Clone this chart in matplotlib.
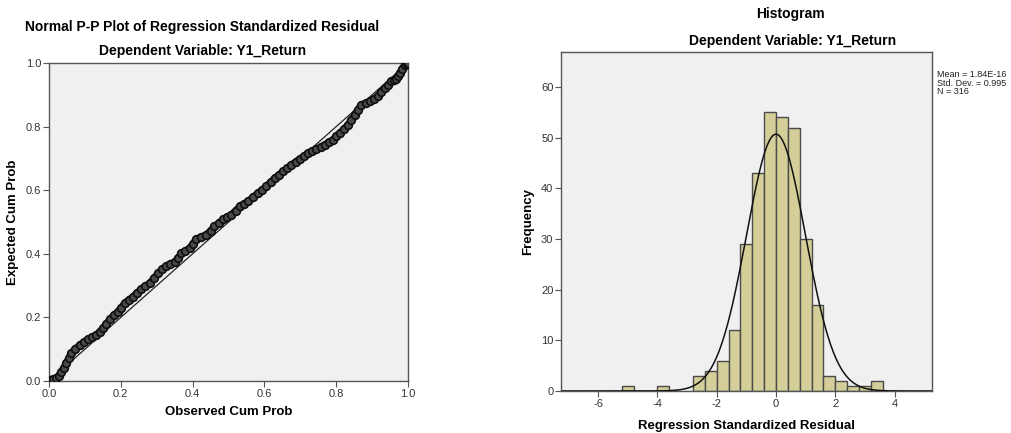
#!/usr/bin/env python3
"""
SPSS-style regression residual diagnostics: normal P-P plot and histogram.

Outputs:
  * out.png
"""
import matplotlib

matplotlib.use("Agg")
import matplotlib.pyplot as plt
import numpy as np

plt.rcParams["font.family"] = ["Liberation Sans", "DejaVu Sans"]
plt.rcParams["axes.unicode_minus"] = False

# P-P plot points (observed cum prob, expected cum prob)
observed_cum = [
    0.002, 0.010, 0.020, 0.027, 0.034, 0.041, 0.048, 0.055, 0.062, 0.073,
    0.085, 0.097, 0.109, 0.120, 0.132, 0.141, 0.150, 0.160, 0.169, 0.180,
    0.192, 0.201, 0.211, 0.222, 0.234, 0.245, 0.257, 0.268, 0.280, 0.292,
    0.304, 0.315, 0.327, 0.338, 0.350, 0.360, 0.369, 0.380, 0.392, 0.401,
    0.410, 0.424, 0.438, 0.450, 0.461, 0.473, 0.485, 0.497, 0.508, 0.520,
    0.531, 0.543, 0.554, 0.568, 0.582, 0.594, 0.605, 0.617, 0.629, 0.640,
    0.652, 0.664, 0.675, 0.687, 0.698, 0.710, 0.721, 0.733, 0.745, 0.757,
    0.768, 0.780, 0.791, 0.800, 0.810, 0.822, 0.833, 0.842, 0.851, 0.860,
    0.870, 0.882, 0.893, 0.905, 0.916, 0.926, 0.935, 0.945, 0.954, 0.961,
    0.967, 0.972, 0.977, 0.984, 0.991, 0.996, 1.000,
]
expected_cum = [
    0.003, 0.005, 0.008, 0.017, 0.029, 0.042, 0.056, 0.072, 0.087, 0.101,
    0.113, 0.123, 0.131, 0.138, 0.145, 0.155, 0.166, 0.180, 0.194, 0.206,
    0.218, 0.231, 0.245, 0.255, 0.265, 0.277, 0.289, 0.298, 0.307, 0.323,
    0.339, 0.351, 0.362, 0.368, 0.375, 0.388, 0.402, 0.410, 0.418, 0.432,
    0.446, 0.453, 0.460, 0.473, 0.486, 0.497, 0.509, 0.516, 0.523, 0.536,
    0.549, 0.557, 0.565, 0.578, 0.591, 0.601, 0.612, 0.625, 0.638, 0.648,
    0.659, 0.669, 0.680, 0.689, 0.698, 0.707, 0.717, 0.723, 0.729, 0.736,
    0.743, 0.751, 0.759, 0.769, 0.780, 0.793, 0.806, 0.821, 0.837, 0.853,
    0.869, 0.874, 0.879, 0.887, 0.895, 0.908, 0.921, 0.932, 0.942, 0.946,
    0.950, 0.960, 0.969, 0.982, 0.995, 0.998, 1.000,
]

# histogram bins (left edges, width 0.4) and counts
bin_lefts = [
    -5.2, -4.8, -4.4, -4.0, -3.6, -3.2, -2.8, -2.4, -2.0, -1.6, -1.2,
    -0.8, -0.4, 0.0, 0.4, 0.8, 1.2, 1.6, 2.0, 2.4, 2.8, 3.2,
]
bin_counts = [
    1, 0, 0, 1, 0, 0, 3, 4, 6, 12, 29,
    43, 55, 54, 52, 30, 17, 3, 2, 1, 1, 2,
]
bin_width = 0.4
resid_mean = 1.84e-16
resid_sd = 0.995
resid_n = 316

BG = "#f0f0f0"
FRAME = "#555555"
TICK_TXT = "#333333"


def style_axes(ax):
    ax.set_facecolor(BG)
    for sp in ax.spines.values():
        sp.set_color(FRAME)
        sp.set_linewidth(1.0)
    ax.tick_params(direction="out", length=4, width=0.8, color=FRAME,
                   labelsize=8, labelcolor=TICK_TXT, pad=1.5)


fig = plt.figure(figsize=(10.12, 4.33), dpi=100)
W, H = 1012, 433

# ---- left: normal P-P plot
ax1 = fig.add_axes([49 / W, 1 - 381 / H, 359 / W, 318 / H])
style_axes(ax1)
ax1.plot([0, 1], [0, 1], color="#222222", lw=0.9, zorder=2)
ax1.plot(observed_cum, expected_cum, color="#1e1e1e", lw=5.0,
         solid_capstyle="round", zorder=3)
ax1.plot(observed_cum, expected_cum, ls="none", marker="o", ms=5.5,
         mfc="#4a4a4a", mec="#0e0e0e", mew=1.2, zorder=4)
ax1.set_xlim(0, 1)
ax1.set_ylim(0, 1)
ticks = [0.0, 0.2, 0.4, 0.6, 0.8, 1.0]
ax1.set_xticks(ticks)
ax1.set_yticks(ticks)
ax1.set_xticklabels([f"{t:.1f}" for t in ticks])
ax1.set_yticklabels([f"{t:.1f}" for t in ticks])
ax1.set_xlabel("Observed Cum Prob", fontsize=9.5, fontweight="bold")
ax1.set_ylabel("Expected Cum Prob", fontsize=9.5, fontweight="bold")
ax1.xaxis.set_label_coords(0.5, -(412 - 381) / 318)
ax1.yaxis.set_label_coords((13 - 49) / 359, 0.5)
ax1.xaxis.label.set_va("center")
ax1.yaxis.label.set_va("center")
fig.text(202 / W, 1 - 27 / H,
         "Normal P-P Plot of Regression Standardized Residual",
         ha="center", va="center", fontsize=10, fontweight="bold")
fig.text(203 / W, 1 - 51 / H, "Dependent Variable: Y1_Return",
         ha="center", va="center", fontsize=10, fontweight="bold")

# ---- right: histogram with normal curve
ax2 = fig.add_axes([561 / W, 1 - 391 / H, 371 / W, 339 / H])
style_axes(ax2)
lefts = [b for b, c in zip(bin_lefts, bin_counts) if c > 0]
counts = [c for c in bin_counts if c > 0]
ax2.bar(lefts, counts, width=bin_width, align="edge", color="#d4cf98",
        edgecolor="#4a4a4a", linewidth=1.0, zorder=2)
xs = np.linspace(-7.25, 5.26, 400)
peak = resid_n * bin_width / (resid_sd * np.sqrt(2 * np.pi))
ys = peak * np.exp(-0.5 * ((xs - resid_mean) / resid_sd) ** 2)
ax2.plot(xs, ys, color="#111111", lw=1.1, zorder=3)
ax2.set_xlim(-7.25, 5.26)
ax2.set_ylim(0, 66.9)
ax2.set_xticks([-6, -4, -2, 0, 2, 4])
ax2.set_yticks([0, 10, 20, 30, 40, 50, 60])
ax2.set_xlabel("Regression Standardized Residual", fontsize=9.5,
               fontweight="bold")
ax2.set_ylabel("Frequency", fontsize=9.5, fontweight="bold")
ax2.xaxis.set_label_coords(0.5, -(426 - 391) / 339)
ax2.yaxis.set_label_coords((528 - 561) / 371, 0.5)
ax2.xaxis.label.set_va("center")
ax2.yaxis.label.set_va("center")
fig.text(790 / W, 1 - 14 / H, "Histogram", ha="center", va="center",
         fontsize=10, fontweight="bold")
fig.text(793 / W, 1 - 41 / H, "Dependent Variable: Y1_Return",
         ha="center", va="center", fontsize=10, fontweight="bold")
fig.text(937 / W, 1 - 83 / H,
         f"Mean = {resid_mean:.2E}"
         + f"\nStd. Dev. = {resid_sd}\nN = {resid_n}",
         ha="left", va="center", fontsize=6.5, linespacing=0.95,
         color="#222222")

fig.savefig("out.png", dpi=100)
plt.close(fig)
print("Wrote out.png")
